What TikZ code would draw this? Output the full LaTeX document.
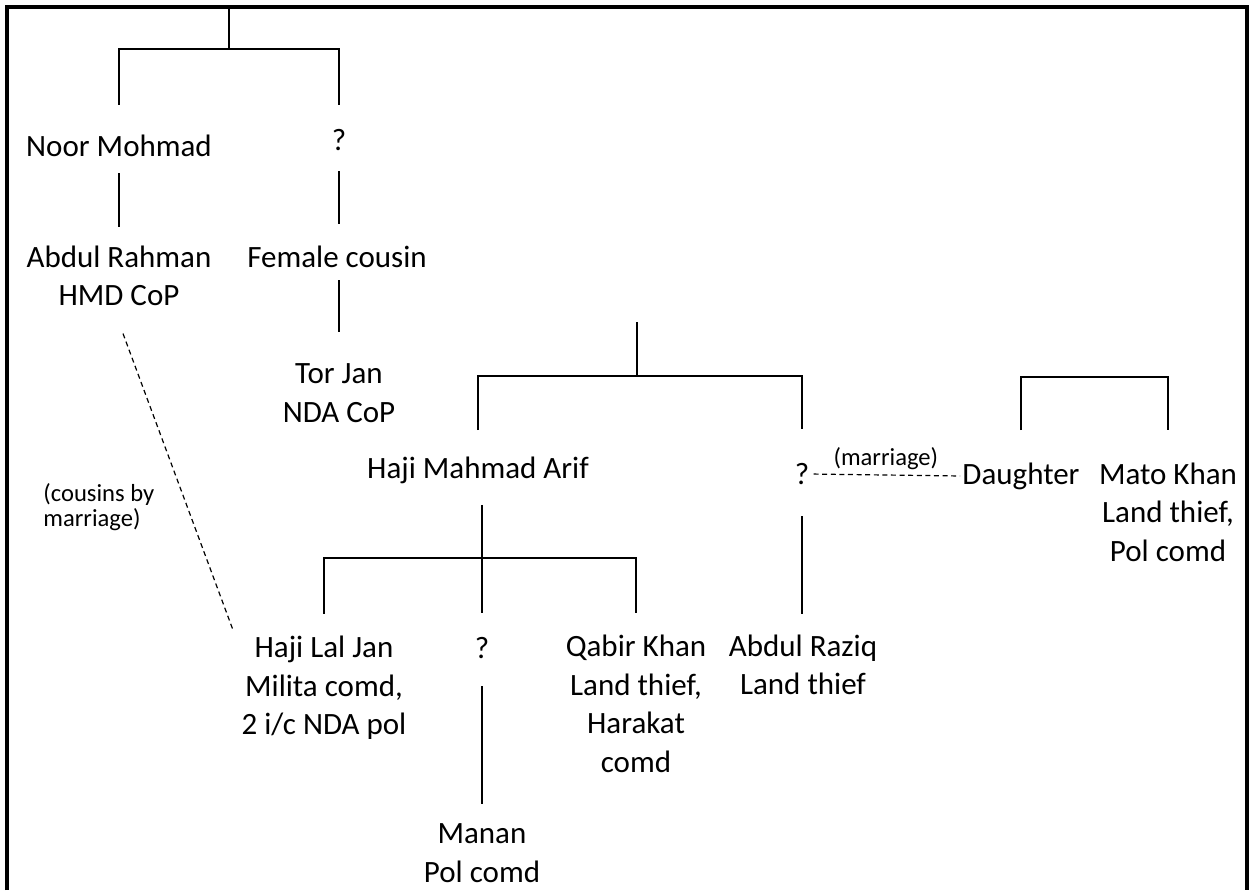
\documentclass[tikz,border=0pt]{standalone}
\usepackage{fontspec}
\setmainfont{Carlito}
\usetikzlibrary{calc}
\begin{document}
\begin{tikzpicture}[x=0.5pt, y=-0.5pt,
  every node/.style={inner sep=0pt, align=center, text=black, font=\fontsize{15.5}{19.3}\selectfont},
  note/.style={font=\fontsize{12.3}{12.5}\selectfont},
  link/.style={line width=0.75pt},
  wed/.style={line width=0.6pt, dash pattern=on 2.5pt off 1.8pt}]
\useasboundingbox (0,0) rectangle (1256,890);
\draw[line width=2pt] (7,890) -- (7,7) -- (1247,7) -- (1247,890);

\node (nm) at (119,146) {Noor Mohmad};
\node (q1) at (339,140) {?};
\node (ar) at (119,276) {Abdul Rahman\\HMD CoP};
\node (fc) at (337,257) {Female cousin};
\node (tj) at (339,393) {Tor Jan\\NDA CoP};
\node (hma) at (478,470) {Haji Mahmad Arif};
\node (q2) at (802,474) {?};
\node (dau) at (1021,476) {Daughter};
\node (mk) at (1168,512) {Mato Khan\\Land thief,\\Pol comd};
\node (hlj) at (324,688) {Haji Lal Jan\\Milita comd,\\2 i/c NDA pol};
\node (q3) at (482,648) {?};
\node (qk) at (636,704) {Qabir Khan\\Land thief,\\Harakat\\comd};
\node (arz) at (803,665) {Abdul Raziq\\Land thief};
\node (man) at (482,853) {Manan\\Pol comd};
\node[note, align=left, anchor=west] (cbm) at (43,507) {(cousins by\\marriage)};

\coordinate (r1) at (229,7);
\coordinate (j1) at (229,49);
\coordinate (r2) at (637,322);
\coordinate (j2) at (637,376);
\coordinate (j3) at (482,558);
\coordinate (j4) at (1096,377);

\draw[link] (r1) -- (j1);
\draw[link, shorten <=15pt, shorten >=12pt] (nm.north) |- (j1) -| (q1.north);
\draw[link, shorten <=8pt, shorten >=9pt] (nm.south) -- (ar.north);
\draw[link, shorten <=10pt, shorten >=11pt] (q1.south) -- (q1.south |- fc.north);
\draw[link, shorten <=6pt, shorten >=15.5pt] (q1.south |- fc.south) -- (q1.south |- tj.north);

\draw[link] (r2) -- (j2);
\draw[link, shorten <=13pt, shorten >=17pt] (hma.north) |- (j2) -| (q2.north);
\draw[link, shorten <=15.5pt, shorten >=10pt] (q2.south) -- (q2.south |- arz.north);
\draw[link, shorten <=10.5pt, shorten >=12pt] (hma.south -| q3) -- (q3.north);
\draw[link, shorten <=11pt, shorten >=11pt] (hlj.north) |- (j3) -| (qk.north);
\draw[link, shorten <=13.5pt, shorten >=9.5pt] (q3.south) -- (man.north);
\draw[link, shorten <=16pt, shorten >=16pt] (dau.north) |- (j4) -| (mk.north);

\draw[wed] ($(ar.south)+(4,27)$) -- ($(hlj.north west)+(-8,-5)$);
\draw[wed, shorten <=2pt, shorten >=1pt] (q2.east) -- (dau.west) node[note, midway, above=2.3pt] (marr) {(marriage)};
\end{tikzpicture}
\end{document}
